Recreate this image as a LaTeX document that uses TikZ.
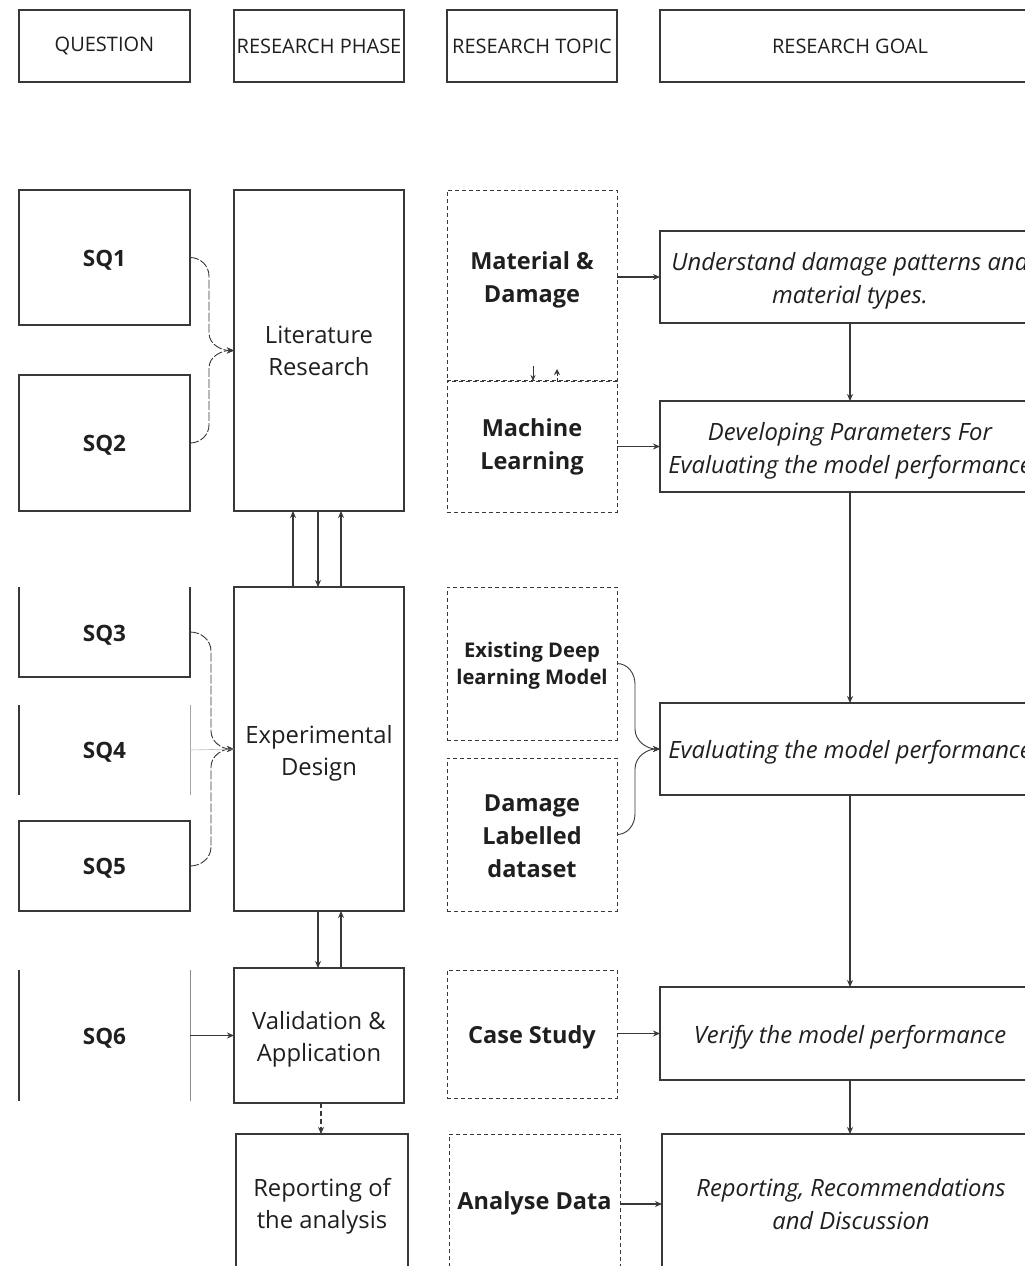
\documentclass[tikz,border=0pt]{standalone}
\usepackage{fontspec}
\setmainfont{Open Sans}
\usetikzlibrary{arrows.meta}
\newcommand{\tstrut}[1]{\rule{0pt}{#1}}
\begin{document}
\begin{tikzpicture}[x=1pt,y=-1pt,
  every node/.style={inner sep=0pt, outer sep=0pt, text=black!88, align=center},
  bd/.style={draw=black!78, line width=1.1pt},
  dbox/.style={draw=black!78, line width=1pt, dash pattern=on 4pt off 3pt},
  hdr/.style={bd, font=\fontsize{20}{23}\selectfont},
  phase/.style={bd, font=\fontsize{23.8}{32}\selectfont},
  sqt/.style={font=\fontsize{22.5}{26}\selectfont\bfseries},
  topic/.style={font=\fontsize{23.5}{33}\selectfont\bfseries},
  goal/.style={bd, font=\fontsize{23.8}{33}\selectfont\itshape},
  arr/.style={draw=black!78, line width=1.1pt, -{Stealth[length=7pt,width=6pt]}},
  brc/.style={draw=black!78, line width=0.9pt, dash pattern=on 9pt off 2pt, -{Stealth[length=7pt,width=6pt]}},
  brs/.style={draw=black!78, line width=0.9pt, -{Stealth[length=7pt,width=6pt]}}
]
\useasboundingbox (0,0) rectangle (1025,1266);
\clip (0,0) rectangle (1025,1266);
\fill[white] (0,0) rectangle (1025,1266);

% headers
\node[hdr, minimum width=171pt, minimum height=72pt] (hq) at (104.5,46) {QUESTION};
\node[hdr, minimum width=170pt, minimum height=72pt] (hp) at (319,46) {RESEARCH PHASE};
\node[hdr, minimum width=170pt, minimum height=72pt] (ht) at (532,46) {RESEARCH TOPIC};
\node[hdr, minimum width=380pt, minimum height=72pt] (hg) at (850,46) {RESEARCH GOAL};

% questions
\node[bd, sqt, minimum width=171pt, minimum height=135pt] (sq1) at (104.5,257.5) {\tstrut{22pt}SQ1};
\node[bd, sqt, minimum width=171pt, minimum height=136pt] (sq2) at (104.5,443) {\tstrut{21pt}SQ2};
\node[sqt, minimum width=171pt, minimum height=90pt] (sq3) at (104.5,632) {\tstrut{22pt}SQ3};
\node[sqt, minimum width=171pt, minimum height=90pt] (sq4) at (104.5,750) {\tstrut{21pt}SQ4};
\node[bd, sqt, minimum width=171pt, minimum height=90pt] (sq5) at (104.5,866) {\tstrut{21pt}SQ5};
\node[sqt, minimum width=171pt, minimum height=131pt] (sq6) at (104.5,1035.5) {\tstrut{22pt}SQ6};
\draw[bd] (sq3.north west) -- (sq3.south west) -- (sq3.south east) -- (sq3.north east);
\draw[bd] (sq4.north west) -- (sq4.south west);
\draw[draw=black!35, line width=0.8pt] (sq4.north east) -- (sq4.south east);
\draw[bd] (sq6.north west) -- (sq6.south west);
\draw[draw=black!45, line width=0.9pt] (sq6.north east) -- (sq6.south east);

% phases
\node[phase, minimum width=170pt, minimum height=321pt] (lr) at (319,350.5) {Literature\\Research};
\node[phase, minimum width=170pt, minimum height=324pt] (ed) at (319,749) {\tstrut{26pt}Experimental\\Design};
\node[phase, minimum width=170pt, minimum height=135pt] (va) at (319,1035.5) {\tstrut{26pt}Validation \&\\Application};
\node[phase, minimum width=172pt, minimum height=140pt] (rep) at (322,1204) {\tstrut{22pt}Reporting of\\the analysis};

% topics
\node[dbox, minimum width=170pt, minimum height=190pt] (md) at (532,285) {};
\node[topic] (mdt) at (532,280) {Material \&\\Damage};
\node[dbox, topic, minimum width=170pt, minimum height=131pt] (ml) at (532,446.5) {Machine\\Learning};
\node[dbox, minimum width=170pt, minimum height=153pt, font=\fontsize{20.2}{27}\selectfont\bfseries] (edl) at (532,663.5) {\tstrut{19pt}Existing Deep\\learning Model};
\node[dbox, topic, minimum width=170pt, minimum height=153pt] (dld) at (532,834.5) {\tstrut{20pt}Damage\\Labelled\\dataset};
\node[dbox, topic, minimum width=170pt, minimum height=128pt] (cs) at (532,1034) {\tstrut{24pt}Case Study};
\node[dbox, topic, minimum width=171pt, minimum height=138pt] (ad) at (534.5,1203) {Analyse Data};

% goals
\node[goal, minimum width=380pt, minimum height=92pt] (g1) at (850,277) {\tstrut{26pt}Understand damage patterns and\\material types.};
\node[goal, minimum width=380pt, minimum height=91pt] (g2) at (850,446.5) {\tstrut{26pt}Developing Parameters For\\Evaluating the model performance};
\node[goal, minimum width=380pt, minimum height=92pt] (g3) at (850,749) {\tstrut{25pt}Evaluating the model performance};
\node[goal, minimum width=380pt, minimum height=93pt] (g4) at (850,1033.5) {\tstrut{26pt}Verify the model performance};
\node[goal, minimum width=378pt, minimum height=140pt] (g5) at (851,1204) {Reporting, Recommendations\\and Discussion};

% question braces
\draw[brc] (sq1.east) to[out=0,in=90] (209,276) -- (209,333) to[out=-90,in=180] (lr.west);
\draw[brc] (sq2.east) to[out=0,in=-90] (209,425) -- (209,368) to[out=90,in=180] (lr.west);
\draw[brc] (sq3.east) to[out=0,in=90] (211,651) -- (211,731) to[out=-90,in=180] (ed.west);
\draw[brc] (sq5.east) to[out=0,in=-90] (211,847) -- (211,767) to[out=90,in=180] (ed.west);
\draw[draw=black!25, line width=0.6pt] (sq4.east) -- (ed.west);
\draw[arr] (sq6.east) -- (va.west);

% phase arrows
\draw[arr] ([xshift=-26pt]ed.north) -- ([xshift=-26pt]lr.south);
\draw[arr] ([xshift=-1pt]lr.south) -- ([xshift=-1pt]ed.north);
\draw[arr] ([xshift=22pt]ed.north) -- ([xshift=22pt]lr.south);
\draw[arr] ([xshift=-1pt]ed.south) -- ([xshift=-1pt]va.north);
\draw[arr] ([xshift=22pt]va.north) -- ([xshift=22pt]ed.south);
\draw[arr, dash pattern=on 5pt off 3pt] ([xshift=2pt]va.south) -- ([xshift=-1pt]rep.north);

% topic arrows
\draw[arr] (md.east |- g1.west) -- (g1.west);
\draw[arr] (ml.east |- g2.west) -- (g2.west);
\draw[arr] (cs.east |- g4.west) -- (g4.west);
\draw[arr] (ad.east |- g5.west) -- (g5.west);
\draw[brs] (edl.east) to[out=0,in=90] (635,684) -- (635,729) to[out=-90,in=180] (g3.west);
\draw[brs] (dld.east) to[out=0,in=-90] (635,814) -- (635,769) to[out=90,in=180] (g3.west);
\draw[draw=black!78, line width=0.9pt, -{Stealth[length=6pt,width=5pt]}] ([xshift=1pt,yshift=15pt]ml.north) -- ([xshift=1pt]ml.north);
\draw[draw=black!78, line width=0.9pt, -{Stealth[length=6pt,width=6pt]}, dash pattern=on 3pt off 2pt] ([xshift=25pt]ml.north) -- ([xshift=25pt,yshift=12pt]ml.north);

% goal arrows
\draw[arr] (g1.south) -- (g2.north);
\draw[arr] (g2.south) -- (g3.north);
\draw[arr] (g3.south) -- (g4.north);
\draw[arr] (g4.south) -- ([xshift=-1pt]g5.north);
\end{tikzpicture}
\end{document}
